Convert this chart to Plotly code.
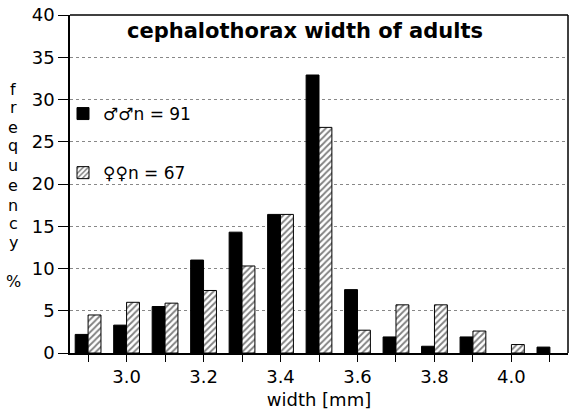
import plotly.graph_objects as go

widths = [2.9, 3.0, 3.1, 3.2, 3.3, 3.4, 3.5, 3.6, 3.7, 3.8, 3.9, 4.0, 4.1]
males = [2.2, 3.3, 5.5, 11.0, 14.3, 16.4, 32.9, 7.5, 1.9, 0.8, 1.9, None, 0.7]
females = [4.5, 6.0, 5.9, 7.4, 10.3, 16.4, 26.7, 2.7, 5.7, 5.7, 2.6, 1.0, None]
tick_vals = widths
tick_text = ["", "3.0", "", "3.2", "", "3.4", "", "3.6", "", "3.8", "", "4.0", ""]
y_ticks = [0, 5, 10, 15, 20, 25, 30, 35, 40]
ylabel_letters = ["f", "r", "e", "q", "u", "e", "n", "c", "y", "%"]

FONT = "DejaVu Sans, Liberation Sans, Arial, sans-serif"
W, H = 574, 415
ML, MR, MT, MB = 70, 6, 15, 62
PW, PH = W - ML - MR, H - MT - MB


def px(x):
    return (x - ML) / PW


def py(y):
    return (H - MB - y) / PH


fig = go.Figure()
fig.add_trace(go.Bar(
    x=widths, y=males, name="♂♂n = 91",
    marker=dict(color="black", line=dict(color="black", width=1)),
    legendgroup="m",
))
fig.add_trace(go.Bar(
    x=widths, y=females, name="♀♀n = 67",
    marker=dict(color="white", line=dict(color="black", width=1),
                pattern=dict(shape="/", fgcolor="black", bgcolor="white",
                             size=4.5, solidity=0.4)),
    legendgroup="f",
))

annotations = [
    dict(text="<b>cephalothorax width of adults</b>", x=px(305), y=py(31),
         xref="paper", yref="paper", showarrow=False, xanchor="center",
         yanchor="middle", font=dict(size=21)),
]
# vertical stacked axis title letters
letter_y = [89, 108, 127, 145, 165, 185, 205, 224, 242, 281]
for ch, yy in zip(ylabel_letters, letter_y):
    annotations.append(dict(text=ch, x=px(13), y=py(yy), xref="paper",
                            yref="paper", showarrow=False, xanchor="center",
                            yanchor="middle", font=dict(size=16)))

fig.update_layout(
    width=W, height=H,
    margin=dict(l=ML, r=MR, t=MT, b=MB, autoexpand=False),
    paper_bgcolor="white", plot_bgcolor="white",
    barmode="group", bargap=0.33, bargroupgap=0,
    font=dict(family=FONT, size=18, color="black"),
    showlegend=True,
    legend=dict(x=px(63), y=py(96), xanchor="left", yanchor="top",
                bgcolor="rgba(0,0,0,0)", font=dict(size=17),
                tracegroupgap=34, itemwidth=30),
    xaxis=dict(range=[2.853, 4.147], tickmode="array", tickvals=tick_vals,
               ticktext=tick_text, ticks="outside", ticklen=7, tickwidth=1,
               tickcolor="black", showline=True, linecolor="black",
               linewidth=1.5, mirror=False, showgrid=False, zeroline=False,
               automargin=False,
               title=dict(text="width [mm]", font=dict(size=18), standoff=7)),
    yaxis=dict(range=[0, 40], tickmode="array", tickvals=y_ticks,
               ticks="outside", ticklen=10, tickwidth=1, tickcolor="black",
               showline=True, linecolor="black", linewidth=1.5,
               showgrid=True, gridcolor="#888", griddash="dot", gridwidth=1,
               zeroline=False, automargin=False),
    annotations=annotations,
    shapes=[
        dict(type="line", xref="paper", yref="paper", x0=0, x1=1, y0=1, y1=1,
             line=dict(color="black", width=1.5)),
        dict(type="line", xref="paper", yref="paper", x0=1, x1=1, y0=0, y1=1,
             line=dict(color="black", width=1.5)),
    ],
)

fig.write_html("out.html", config={"displayModeBar": False},
               post_script="document.body.style.margin='0';"
                           "document.body.style.overflow='hidden';")
